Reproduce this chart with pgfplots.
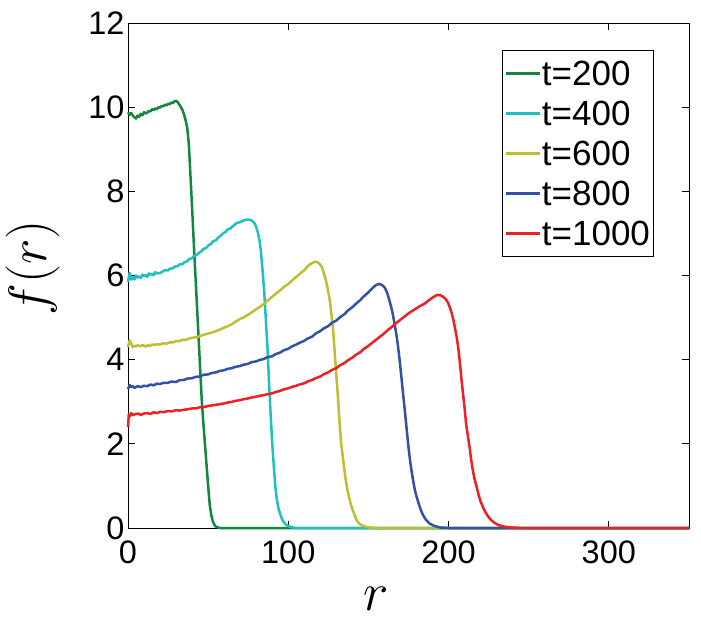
\RequirePackage{fix-cm}
\documentclass[border=0pt]{standalone}
\usepackage[no-math]{fontspec}
\setmainfont{Liberation Sans}
\usepackage{pgfplots}
\pgfplotsset{compat=1.18}
\definecolor{cgreen}{RGB}{16,136,62}
\definecolor{ccyan}{RGB}{32,192,192}
\definecolor{cyellow}{RGB}{190,190,48}
\definecolor{cblue}{RGB}{52,80,168}
\definecolor{cred}{RGB}{238,32,36}
\begin{document}
\begin{tikzpicture}[x=1pt,y=1pt]
\useasboundingbox (0,0) rectangle (701,622);
\begin{axis}[
  at={(128pt,94pt)}, anchor=south west,
  width=561pt, height=505pt, scale only axis,
  xmin=0, xmax=350, ymin=0, ymax=12,
  xtick={0,100,200,300}, ytick={0,2,4,6,8,10,12},
  tick align=inside, major tick length=7pt,
  tick style={black, line width=0.8pt},
  axis line style={black, line width=0.9pt},
  /pgf/number format/assume math mode=true,
  ticklabel style={font=\fontsize{32.5}{38}\selectfont},
  xticklabel style={yshift=-9pt},
  xlabel={$r$}, ylabel={$f(r)$},
  label style={font=\fontsize{54}{60}\selectfont},
  xlabel style={at={([yshift=-82pt]rel axis cs:0.442,0)}, anchor=base},
  ylabel style={at={([xshift=-81pt]rel axis cs:0,0.515)}, anchor=base, rotate=0},
  clip=false,
  every axis plot/.append style={line width=2.5pt, line join=round},
  legend cell align=left,
  legend style={at={(0.6667,0.9465)}, anchor=north west, draw=black, line width=0.8pt,
    inner xsep=2pt, inner ysep=3pt, row sep=0pt,
    font=\fontsize{35}{40}\selectfont,
    nodes={inner xsep=1pt, inner ysep=8pt, text height=24pt, text depth=0pt}},
  legend image code/.code={\draw[#1, line width=2.5pt] (0pt,0pt) -- (34pt,0pt);},
]
\addplot[cgreen] coordinates {(0,9.88)(1,9.82)(2,9.86)(3,9.80)(4,9.76)(5,9.73)(6,9.80)(7,9.77)(8,9.84)(9,9.81)(10,9.88)(11,9.85)(12,9.87)(13,9.91)(14,9.90)(15,9.95)(16,9.93)(17,9.97)(18,9.95)(19,10.00)(20,9.99)(21,10.03)(22,10.02)(23,10.06)(24,10.04)(25,10.08)(26,10.07)(27,10.11)(28,10.10)(29,10.14)(30,10.15)(31,10.12)(32,10.06)(33,10.0)(34,9.93)(35,9.82)(36,9.68)(37,9.5)(38,9.1)(39,8.35)(40,7.6)(41,6.8)(42,6.05)(43,5.3)(44,4.55)(45,3.8)(46,3.04)(47,2.5)(48,2.0)(49,1.5)(50,1.0)(51,0.55)(52,0.3)(53,0.15)(54,0.07)(55,0.03)(57,0)(350,0)};
\addlegendentry{t=200}
\addplot[ccyan] coordinates {(0,5.85)(1,6.06)(2,5.9)(3,5.96)(4,5.91)(5,6.0)(6,5.95)(7,5.98)(8,5.94)(9,6.02)(10,5.99)(11,6.01)(12,5.97)(13,6.05)(14,6.02)(15,6.04)(16,6.01)(17,6.08)(18,6.05)(20,6.06)(22,6.1)(23,6.13)(25,6.12)(26,6.16)(28,6.17)(29,6.21)(31,6.22)(32,6.26)(34,6.27)(35,6.31)(37,6.34)(38,6.39)(40,6.41)(41,6.46)(43,6.49)(44,6.53)(46,6.58)(47,6.63)(49,6.66)(50,6.71)(52,6.76)(53,6.81)(55,6.84)(56,6.89)(58,6.95)(59,6.99)(61,7.04)(62,7.09)(64,7.12)(65,7.16)(67,7.22)(68,7.25)(70,7.27)(71,7.29)(73,7.32)(75,7.33)(77,7.31)(79,7.24)(80,7.15)(81,7.02)(82,6.85)(83,6.55)(84,6.1)(85,5.6)(86,4.95)(87,4.3)(88,3.45)(89,2.7)(90,2.0)(91,1.45)(92,0.95)(93,0.65)(94,0.45)(95,0.32)(96,0.22)(97,0.15)(98,0.1)(99,0.07)(101,0.03)(104,0)(350,0)};
\addlegendentry{t=400}
\addplot[cyellow] coordinates {(0,4.3)(1,4.46)(2,4.38)(3,4.3)(4,4.33)(5,4.31)(6,4.34)(8,4.32)(9,4.35)(11,4.31)(12,4.34)(14,4.33)(15,4.36)(17,4.35)(18,4.37)(20,4.36)(22,4.39)(24,4.38)(26,4.41)(28,4.41)(30,4.44)(32,4.44)(34,4.47)(36,4.47)(38,4.5)(40,4.52)(42,4.53)(45,4.56)(47,4.59)(50,4.62)(52,4.64)(55,4.68)(57,4.71)(60,4.76)(62,4.79)(65,4.85)(67,4.9)(70,4.97)(72,5.0)(75,5.07)(77,5.12)(80,5.2)(82,5.25)(85,5.33)(87,5.4)(90,5.5)(92,5.56)(95,5.65)(97,5.72)(100,5.8)(102,5.87)(105,5.97)(107,6.03)(110,6.13)(112,6.21)(113,6.25)(115,6.3)(117,6.33)(119,6.3)(121,6.2)(122,6.08)(123,5.95)(124,5.8)(125,5.6)(126,5.38)(127,5.05)(128,4.7)(129,4.15)(130,3.63)(131,3.1)(132,2.5)(133,2.0)(134,1.7)(135,1.38)(136,1.1)(137,0.88)(138,0.72)(139,0.56)(140,0.45)(141,0.35)(142,0.24)(143,0.16)(145,0.08)(149,0.02)(155,0)(350,0)};
\addlegendentry{t=600}
\addplot[cblue] coordinates {(0,3.3)(1,3.4)(2,3.35)(3,3.37)(4,3.33)(6,3.37)(8,3.35)(10,3.38)(12,3.37)(14,3.41)(16,3.39)(18,3.43)(20,3.42)(22,3.45)(25,3.45)(27,3.48)(30,3.47)(32,3.51)(35,3.52)(37,3.55)(40,3.56)(42,3.59)(45,3.6)(47,3.64)(50,3.65)(52,3.68)(55,3.7)(57,3.73)(60,3.75)(62,3.78)(65,3.8)(67,3.83)(70,3.85)(72,3.88)(75,3.9)(77,3.94)(80,3.96)(82,3.99)(85,4.02)(87,4.06)(90,4.08)(92,4.13)(95,4.17)(97,4.22)(100,4.26)(102,4.31)(105,4.36)(107,4.4)(110,4.45)(112,4.5)(115,4.55)(117,4.62)(120,4.68)(122,4.74)(125,4.8)(127,4.87)(130,4.93)(132,5.0)(135,5.08)(137,5.16)(140,5.25)(142,5.32)(145,5.42)(147,5.5)(150,5.6)(153,5.72)(155,5.78)(157,5.8)(159,5.76)(160,5.72)(161,5.65)(162,5.55)(163,5.42)(164,5.28)(165,5.12)(166,4.92)(167,4.7)(168,4.45)(169,4.15)(170,3.8)(171,3.42)(172,3.05)(173,2.68)(174,2.3)(175,1.92)(176,1.6)(177,1.33)(178,1.1)(179,0.9)(180,0.75)(182,0.5)(184,0.31)(186,0.19)(188,0.11)(191,0.05)(195,0.01)(200,0)(350,0)};
\addlegendentry{t=800}
\addplot[cred] coordinates {(0,2.4)(0.5,2.7)(1,2.65)(2,2.73)(3,2.68)(4,2.7)(6,2.72)(8,2.69)(10,2.72)(12,2.73)(14,2.71)(16,2.75)(18,2.73)(20,2.76)(22,2.75)(25,2.78)(27,2.77)(30,2.8)(32,2.79)(35,2.81)(37,2.82)(40,2.84)(42,2.84)(45,2.87)(47,2.87)(50,2.9)(52,2.91)(55,2.93)(57,2.94)(60,2.96)(62,2.98)(65,3.0)(67,3.02)(70,3.04)(72,3.06)(75,3.08)(77,3.1)(80,3.12)(82,3.14)(85,3.16)(87,3.18)(90,3.2)(92,3.23)(95,3.26)(97,3.29)(100,3.32)(102,3.35)(105,3.38)(107,3.41)(110,3.44)(112,3.48)(115,3.52)(117,3.56)(120,3.6)(122,3.65)(125,3.7)(127,3.75)(130,3.8)(132,3.86)(135,3.92)(137,3.98)(140,4.05)(142,4.11)(145,4.18)(147,4.25)(150,4.33)(152,4.39)(155,4.48)(157,4.54)(160,4.63)(162,4.7)(165,4.79)(167,4.86)(170,4.95)(172,5.01)(175,5.1)(177,5.15)(180,5.22)(182,5.27)(185,5.33)(188,5.42)(191,5.5)(193,5.54)(195,5.53)(197,5.48)(199,5.4)(200,5.32)(201,5.22)(202,5.1)(203,4.95)(204,4.75)(205,4.55)(206,4.3)(207,3.95)(208,3.55)(209,3.2)(210,2.85)(211,2.45)(212,2.2)(213,1.95)(214,1.65)(215,1.4)(216,1.2)(217,1.05)(218,0.9)(219,0.75)(220,0.63)(222,0.45)(224,0.31)(226,0.21)(228,0.14)(231,0.07)(235,0.03)(240,0.01)(245,0)(350,0)};
\addlegendentry{t=1000}
\end{axis}
\end{tikzpicture}
\end{document}
